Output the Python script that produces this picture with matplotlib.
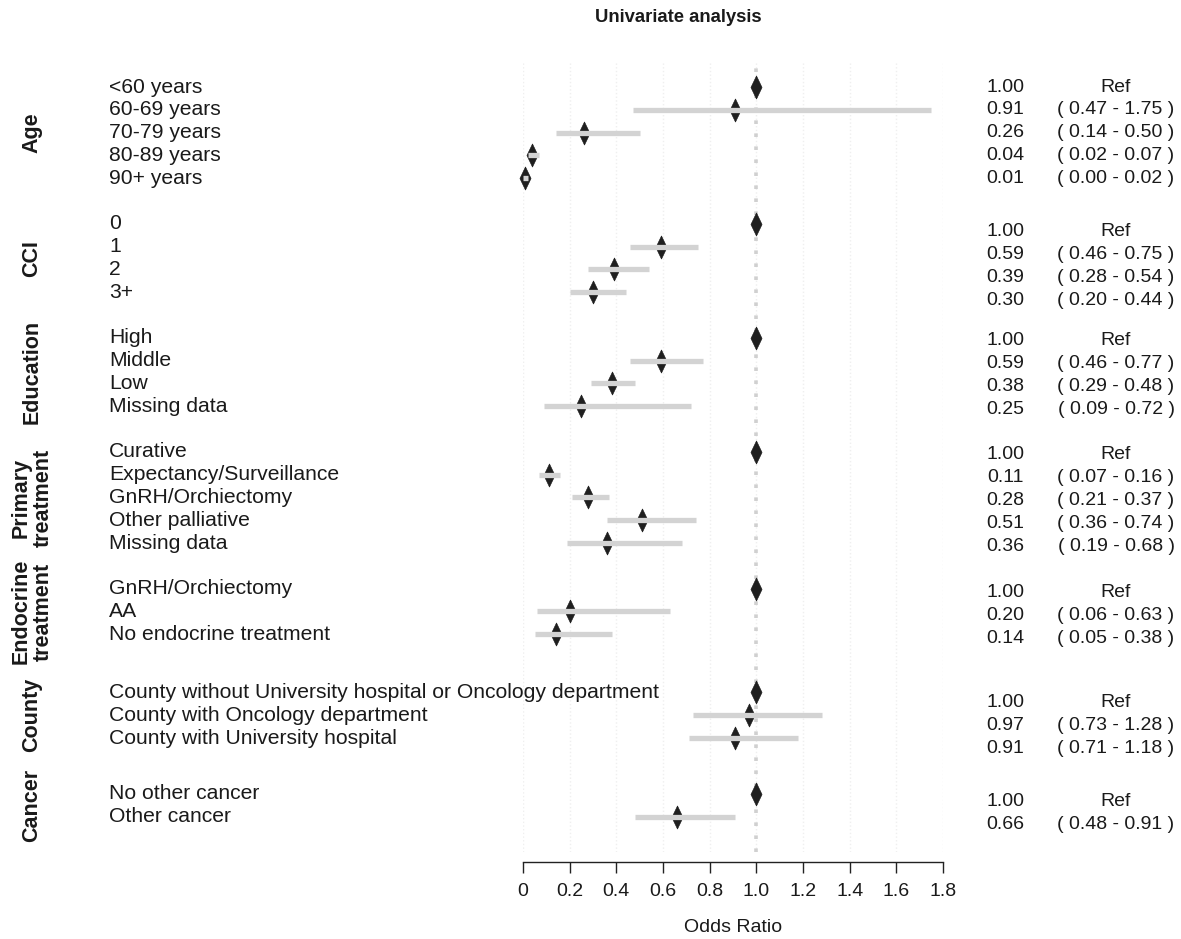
import numpy as np
import matplotlib
matplotlib.use('Agg')
import matplotlib.pyplot as plt
import matplotlib.transforms as mtransforms
from matplotlib.path import Path

plt.rcParams['font.family'] = ['Liberation Sans', 'DejaVu Sans']

# data
groups = ['Age', 'CCI', 'Education', 'Primary\ntreatment',
          'Endocrine\ntreatment', 'County', 'Cancer']
levels = [
    ['<60 years', '60-69 years', '70-79 years', '80-89 years', '90+ years'],
    ['0', '1', '2', '3+'],
    ['High', 'Middle', 'Low', 'Missing data'],
    ['Curative', 'Expectancy/Surveillance', 'GnRH/Orchiectomy',
     'Other palliative', 'Missing data'],
    ['GnRH/Orchiectomy', 'AA', 'No endocrine treatment'],
    ['County without University hospital or Oncology department',
     'County with Oncology department', 'County with University hospital'],
    ['No other cancer', 'Other cancer'],
]
odds = [
    [1.00, 0.91, 0.26, 0.04, 0.01],
    [1.00, 0.59, 0.39, 0.30],
    [1.00, 0.59, 0.38, 0.25],
    [1.00, 0.11, 0.28, 0.51, 0.36],
    [1.00, 0.20, 0.14],
    [1.00, 0.97, 0.91],
    [1.00, 0.66],
]
ci_low = [
    [None, 0.47, 0.14, 0.02, 0.00],
    [None, 0.46, 0.28, 0.20],
    [None, 0.46, 0.29, 0.09],
    [None, 0.07, 0.21, 0.36, 0.19],
    [None, 0.06, 0.05],
    [None, 0.73, 0.71],
    [None, 0.48],
]
ci_high = [
    [None, 1.75, 0.50, 0.07, 0.02],
    [None, 0.75, 0.54, 0.44],
    [None, 0.77, 0.48, 0.72],
    [None, 0.16, 0.37, 0.74, 0.68],
    [None, 0.63, 0.38],
    [None, 1.28, 1.18],
    [None, 0.91],
]
xticks = [0, 0.2, 0.4, 0.6, 0.8, 1.0, 1.2, 1.4, 1.6, 1.8]
xtick_labels = ['0', '0.2', '0.4', '0.6', '0.8', '1.0', '1.2', '1.4', '1.6', '1.8']

# layout (row units): distance from last row of one group to first row of next
group_gap = [1.0, 2.0, 2.0, 2.0, 2.0, 2.55, 2.45]
num_shift = [0, 0.35, 0.13, 0.13, 0.18, 0.44, 0.35]

txt_col = '#1a1a1a'
fs = 14

fig = plt.figure(figsize=(11.81, 9.39), dpi=100)
W, H = 1181, 939
ax = fig.add_axes([523 / W, 1 - 852 / H, 420 / W, (852 - 62) / H])
ax.set_xlim(0, 1.8)
ax.set_ylim(33.55, -1.10)

diamond = Path([(0, 1), (0.48, 0), (0, -1), (-0.48, 0), (0, 1)],
               [Path.MOVETO, Path.LINETO, Path.LINETO, Path.LINETO, Path.CLOSEPOLY])

lab_tr = mtransforms.blended_transform_factory(fig.transFigure, ax.transData)

for xt in xticks:
    ax.axvline(xt, color='#efefef', lw=1.0, ls=':', zorder=0)
ax.axvline(1.0, color='#d0d0d0', lw=2.6, ls=(0, (1, 2.6)), zorder=1)

y = -1.0
for g in range(len(groups)):
    y = y + group_gap[g]
    start = y
    for i in range(len(levels[g])):
        if i > 0:
            y = y + 1
        ax.plot(odds[g][i], y, marker=diamond, ms=16.5, color='#1f1f1f',
                mec='#1f1f1f', mew=0.5, ls='none', zorder=3, clip_on=False)
        if ci_low[g][i] is not None:
            ax.hlines(y, ci_low[g][i], ci_high[g][i], color='#d3d3d3',
                      lw=3.8, zorder=4)
            ci_txt = '( %.2f - %.2f )' % (ci_low[g][i], ci_high[g][i])
        else:
            ci_txt = 'Ref'
        ax.text(109 / W, y, levels[g][i], transform=lab_tr, ha='left',
                va='center', fontsize=15.2, color=txt_col)
        ax.text(1005 / W, y + num_shift[g], '%.2f' % odds[g][i], transform=lab_tr,
                ha='center', va='center', fontsize=fs, color=txt_col)
        ax.text(1116 / W, y + num_shift[g], ci_txt, transform=lab_tr,
                ha='center', va='center', fontsize=fs, color=txt_col)
    ax.text(32 / W, (start + y) / 2, groups[g], transform=lab_tr, rotation=90,
            ha='center', va='center', fontsize=15.5, fontweight='bold',
            color=txt_col, linespacing=1.05)

for s in ['top', 'right', 'left']:
    ax.spines[s].set_visible(False)
ax.spines['bottom'].set_position(('outward', 7))
ax.spines['bottom'].set_bounds(0, 1.8)
ax.spines['bottom'].set_color('#222222')
ax.spines['bottom'].set_linewidth(1.0)
ax.set_yticks([])
ax.set_xticks(xticks)
ax.set_xticklabels(xtick_labels)
ax.tick_params(axis='x', length=8, width=1.0, color='#222222', pad=7,
               labelsize=fs, labelcolor=txt_col)

fig.text(733 / W, 1 - 927 / H, 'Odds Ratio', ha='center', va='center',
         fontsize=fs, color=txt_col)
fig.text(678 / W, 1 - 17 / H, 'Univariate analysis', ha='center', va='center',
         fontsize=13.3, fontweight='bold', color=txt_col)

fig.savefig('out.png', dpi=100, facecolor='white')
